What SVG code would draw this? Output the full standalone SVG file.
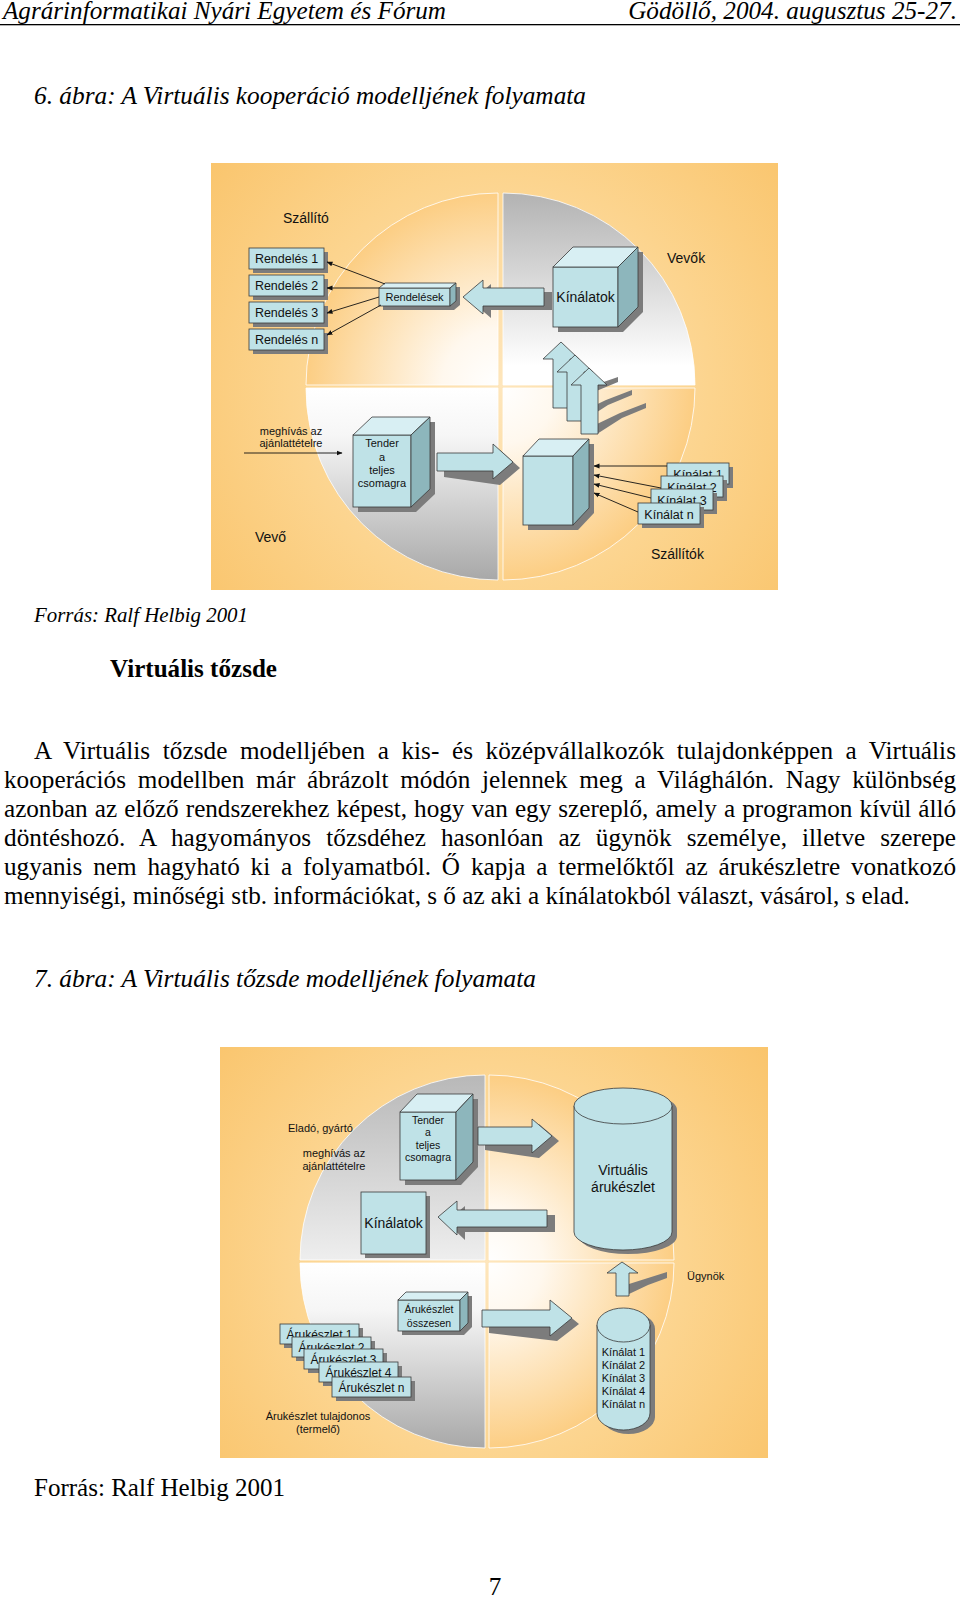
<svg xmlns="http://www.w3.org/2000/svg" width="960" height="1597" viewBox="0 0 960 1597">
<style>
.bx{fill:#BFE2E7;stroke:#3a3a3a;stroke-width:0.8}
.tp{fill:#D8EFF3;stroke:#3a3a3a;stroke-width:0.8}
.sd{fill:#8DB6BC;stroke:#3a3a3a;stroke-width:0.8}
.sh{fill:#7c7c7c}
.t{font-family:"Liberation Sans",Arial,sans-serif;fill:#111}
.c{text-anchor:middle}
.ln{stroke:#111;stroke-width:0.9;fill:none;marker-end:url(#ah)}
.sf{font-family:"Liberation Serif","Times New Roman",serif;fill:#000;font-size:25.2px}
.it{font-style:italic}
.qs{stroke:#ffffff;stroke-width:1;stroke-opacity:0.8}
</style>
<defs>
<marker id="ah" markerWidth="6" markerHeight="6" refX="5.5" refY="3" orient="auto" markerUnits="userSpaceOnUse"><path d="M0,0.6 L6,3 L0,5.4 z" fill="#111"/></marker>
<radialGradient id="bg1" gradientUnits="userSpaceOnUse" cx="500" cy="386" r="420"><stop offset="0" stop-color="#FEE6BC"/><stop offset="0.5" stop-color="#FCD48E"/><stop offset="1" stop-color="#F9C062"/></radialGradient>
<radialGradient id="bg2" gradientUnits="userSpaceOnUse" cx="487" cy="1262" r="400"><stop offset="0" stop-color="#FEE6BC"/><stop offset="0.5" stop-color="#FCD48E"/><stop offset="1" stop-color="#F9C062"/></radialGradient>
<radialGradient id="or1" gradientUnits="userSpaceOnUse" cx="500" cy="386" r="193"><stop offset="0" stop-color="#FFFFFF"/><stop offset="0.3" stop-color="#FFF8EE"/><stop offset="1" stop-color="#FCCE84"/></radialGradient>
<radialGradient id="or2" gradientUnits="userSpaceOnUse" cx="487" cy="1262" r="186"><stop offset="0" stop-color="#FFFFFF"/><stop offset="0.3" stop-color="#FFF8EE"/><stop offset="1" stop-color="#FCCE84"/></radialGradient>
<linearGradient id="gt1" gradientUnits="userSpaceOnUse" x1="0" y1="194" x2="0" y2="385"><stop offset="0" stop-color="#B3B3B3"/><stop offset="0.9" stop-color="#FFFFFF"/></linearGradient>
<linearGradient id="gb1" gradientUnits="userSpaceOnUse" x1="0" y1="388" x2="0" y2="580"><stop offset="0" stop-color="#FFFFFF"/><stop offset="0.25" stop-color="#F6F6F6"/><stop offset="1" stop-color="#A8A8A8"/></linearGradient>
<linearGradient id="gt2" gradientUnits="userSpaceOnUse" x1="0" y1="1075" x2="0" y2="1260"><stop offset="0" stop-color="#B8B8B8"/><stop offset="1" stop-color="#EEEEEE"/></linearGradient>
<linearGradient id="gb2" gradientUnits="userSpaceOnUse" x1="0" y1="1263" x2="0" y2="1448"><stop offset="0" stop-color="#FFFFFF"/><stop offset="0.25" stop-color="#F6F6F6"/><stop offset="1" stop-color="#A8A8A8"/></linearGradient>
</defs>
<rect width="960" height="1597" fill="#ffffff"/>

<g id="page-header">
<text class="sf it" x="3" y="19" textLength="443" lengthAdjust="spacingAndGlyphs">Agrárinformatikai Nyári Egyetem és Fórum</text>
<text class="sf it" x="957" y="19" text-anchor="end">Gödöllő, 2004. augusztus 25-27.</text>
<rect x="0" y="24" width="960" height="1.3" fill="#000"/>
</g>
<text id="caption-6" class="sf it" x="34" y="104" textLength="552" lengthAdjust="spacingAndGlyphs">6. ábra: A Virtuális kooperáció modelljének folyamata</text>

<g id="figure-6-background">
<rect x="211" y="163" width="567" height="427" fill="url(#bg1)"/>
<path class="qs" d="M498,385 L306,385 A192,192 0 0 1 498,193 Z" fill="url(#or1)"/>
<path class="qs" d="M503,385 L503,193 A192,192 0 0 1 695,385 Z" fill="url(#gt1)"/>
<path class="qs" d="M498,388 L306,388 A192,192 0 0 0 498,580 Z" fill="url(#gb1)"/>
<path class="qs" d="M503,388 L695,388 A192,192 0 0 1 503,580 Z" fill="url(#or1)"/>
</g>

<g id="fig6-labels" class="t">
<text x="283" y="223" font-size="14">Szállító</text>
<text x="667" y="263" font-size="14">Vevők</text>
<text x="255" y="542" font-size="14">Vevő</text>
<text x="651" y="559" font-size="14">Szállítók</text>
<text class="c" x="291" y="435" font-size="11">meghívás az</text>
<text class="c" x="291" y="447" font-size="11">ajánlattételre</text>
</g>

<g id="rendeles-1"><rect class="sh" x="253" y="252" width="75" height="21"/><rect class="bx" x="249" y="248" width="75" height="21"/><text class="t c" x="286.5" y="263" font-size="12.5">Rendelés 1</text></g>
<g id="rendeles-2"><rect class="sh" x="253" y="279" width="75" height="21"/><rect class="bx" x="249" y="275" width="75" height="21"/><text class="t c" x="286.5" y="290" font-size="12.5">Rendelés 2</text></g>
<g id="rendeles-3"><rect class="sh" x="253" y="306" width="75" height="21"/><rect class="bx" x="249" y="302" width="75" height="21"/><text class="t c" x="286.5" y="317" font-size="12.5">Rendelés 3</text></g>
<g id="rendeles-n"><rect class="sh" x="253" y="333" width="75" height="21"/><rect class="bx" x="249" y="329" width="75" height="21"/><text class="t c" x="286.5" y="344" font-size="12.5">Rendelés n</text></g>

<g id="rendelesek">
<polygon class="sh" points="383,292 389,287 460,287 460,305 454,310 383,310"/>
<rect class="bx" x="379" y="288" width="71" height="18"/>
<polygon class="tp" points="379,288 385,283 456,283 450,288"/>
<polygon class="sd" points="450,288 456,283 456,301 450,306"/>
<text class="t c" x="414.5" y="301" font-size="11">Rendelések</text>
</g>

<g id="kinalatok-cube">
<polygon class="sh" points="558,272 578,252 643,252 643,312 623,332 558,332"/>
<rect class="bx" x="553" y="267" width="65" height="60"/>
<polygon class="tp" points="553,267 573,247 638,247 618,267"/>
<polygon class="sd" points="618,267 638,247 638,307 618,327"/>
<text class="t c" x="585.5" y="302" font-size="14">Kínálatok</text>
</g>

<g id="tender-cube-1">
<polygon class="sh" points="358,440 377,422 435,422 435,494 416,512 358,512"/>
<rect class="bx" x="353" y="435" width="58" height="72"/>
<polygon class="tp" points="353,435 372,417 430,417 411,435"/>
<polygon class="sd" points="411,435 430,417 430,489 411,507"/>
<text class="t c" x="382" y="447" font-size="11">Tender</text>
<text class="t c" x="382" y="461" font-size="11">a</text>
<text class="t c" x="382" y="474" font-size="11">teljes</text>
<text class="t c" x="382" y="487" font-size="11">csomagra</text>
</g>

<g id="collector-cube">
<polygon class="sh" points="528,461 544,444 594,444 594,513 578,530 528,530"/>
<rect class="bx" x="523" y="456" width="50" height="69"/>
<polygon class="tp" points="523,456 539,439 589,439 573,456"/>
<polygon class="sd" points="573,456 589,439 589,508 573,525"/>
</g>

<g id="kinalat-1"><rect class="sh" x="671" y="467" width="62" height="21"/><rect class="bx" x="667" y="463" width="62" height="21"/><text class="t c" x="698" y="478.5" font-size="12.5">Kínálat 1</text></g>
<g id="kinalat-2"><rect class="sh" x="665" y="480" width="62" height="21"/><rect class="bx" x="661" y="476" width="62" height="21"/><text class="t c" x="692" y="491.5" font-size="12.5">Kínálat 2</text></g>
<g id="kinalat-3"><rect class="sh" x="655" y="493" width="62" height="21"/><rect class="bx" x="651" y="489" width="62" height="21"/><text class="t c" x="682" y="504.5" font-size="12.5">Kínálat 3</text></g>
<g id="kinalat-n"><rect class="sh" x="642" y="507" width="62" height="21"/><rect class="bx" x="638" y="503" width="62" height="21"/><text class="t c" x="669" y="518.5" font-size="12.5">Kínálat n</text></g>

<g id="fig6-block-arrows">
<polygon class="sh" points="471,301 491,284 491,292 552,292 552,310 491,310 491,318"/>
<polygon class="bx" points="463,297 483,280 483,288 544,288 544,306 483,306 483,314"/>
<polygon class="sh" points="444,459 500,459 500,450 520,468 500,485 444,477"/>
<polygon class="bx" points="437,453 493,453 493,444 513,462 493,479 493,471 437,471"/>
<polygon class="sh" points="569,397 592,386 618,377 618,382 594,392 569,407"/>
<polygon class="sh" points="583,411 606,400 632,390 632,395 608,405 583,421"/>
<polygon class="sh" points="597,424 620,413 646,403 646,408 622,418 597,434"/>
<polygon class="bx" points="561,342 579,359 570,359 570,408 553,408 553,359 543,359"/>
<polygon class="bx" points="575,355 593,372 584,372 584,421 567,421 567,372 557,372"/>
<polygon class="bx" points="589,368 607,385 598,385 598,434 581,434 581,385 571,385"/>
</g>

<g id="connectors">
<line class="ln" x1="385" y1="284" x2="327" y2="262"/>
<line class="ln" x1="379" y1="288" x2="327" y2="288"/>
<line class="ln" x1="379" y1="297" x2="327" y2="313"/>
<line class="ln" x1="381" y1="305" x2="327" y2="335"/>
<line class="ln" x1="244" y1="453" x2="342" y2="453"/>
<line class="ln" x1="667" y1="466" x2="594" y2="466"/>
<line class="ln" x1="661" y1="488" x2="594" y2="475"/>
<line class="ln" x1="651" y1="498" x2="594" y2="484"/>
<line class="ln" x1="638" y1="512" x2="594" y2="493"/>
<line class="ln" x1="292" y1="1176" x2="388" y2="1176"/>
<line class="ln" x1="358" y1="1324" x2="389" y2="1315"/>
<line class="ln" x1="365" y1="1344" x2="391" y2="1332"/>
<line class="ln" x1="375" y1="1358" x2="400" y2="1344"/>
<line class="ln" x1="390" y1="1372" x2="413" y2="1349"/>
<line class="ln" x1="402" y1="1388" x2="426" y2="1353"/>
</g>

<text id="source-6" class="sf it" x="34" y="622" style="font-size:21px" textLength="214" lengthAdjust="spacingAndGlyphs">Forrás: Ralf Helbig 2001</text>
<text id="heading" class="sf" x="110" y="677" font-weight="bold" textLength="167" lengthAdjust="spacingAndGlyphs">Virtuális tőzsde</text>

<g id="paragraph" class="sf">
<text x="34" y="759" word-spacing="6.1" textLength="922" lengthAdjust="spacing">A Virtuális tőzsde modelljében a kis- és középvállalkozók tulajdonképpen a Virtuális</text>
<text x="4" y="788" word-spacing="5.4" textLength="952" lengthAdjust="spacing">kooperációs modellben már ábrázolt módón jelennek meg a Világhálón. Nagy különbség</text>
<text x="4" y="817" word-spacing="0.9" textLength="952" lengthAdjust="spacing">azonban az előző rendszerekhez képest, hogy van egy szereplő, amely a programon kívül álló</text>
<text x="4" y="846" word-spacing="8.7" textLength="952" lengthAdjust="spacing">döntéshozó. A hagyományos tőzsdéhez hasonlóan az ügynök személye, illetve szerepe</text>
<text x="4" y="875" word-spacing="4.5" textLength="952" lengthAdjust="spacing">ugyanis nem hagyható ki a folyamatból. Ő kapja a termelőktől az árukészletre vonatkozó</text>
<text x="4" y="904">mennyiségi, minőségi stb. információkat, s ő az aki a kínálatokból választ, vásárol, s elad.</text>
</g>

<text id="caption-7" class="sf it" x="34" y="987" textLength="502" lengthAdjust="spacingAndGlyphs">7. ábra: A Virtuális tőzsde modelljének folyamata</text>

<g id="figure-7-background">
<rect x="220" y="1047" width="548" height="411" fill="url(#bg2)"/>
<path class="qs" d="M485,1260 L300,1260 A185,185 0 0 1 485,1075 Z" fill="url(#gt2)"/>
<path class="qs" d="M489,1260 L489,1075 A185,185 0 0 1 674,1260 Z" fill="url(#or2)"/>
<path class="qs" d="M485,1263 L300,1263 A185,185 0 0 0 485,1448 Z" fill="url(#gb2)"/>
<path class="qs" d="M489,1263 L674,1263 A185,185 0 0 1 489,1448 Z" fill="url(#or2)"/>
</g>

<g id="fig7-labels" class="t">
<text x="288" y="1132" font-size="11">Eladó, gyártó</text>
<text class="c" x="334" y="1157" font-size="11">meghívás az</text>
<text class="c" x="334" y="1170" font-size="11">ajánlattételre</text>
<text x="687" y="1280" font-size="11">Ügynök</text>
<text class="c" x="318" y="1420" font-size="11">Árukészlet tulajdonos</text>
<text class="c" x="318" y="1433" font-size="11">(termelő)</text>
</g>

<g id="tender-cube-2">
<polygon class="sh" points="405,1117 422,1099 478,1099 478,1167 461,1185 405,1185"/>
<rect class="bx" x="400" y="1112" width="56" height="68"/>
<polygon class="tp" points="400,1112 417,1094 473,1094 456,1112"/>
<polygon class="sd" points="456,1112 473,1094 473,1162 456,1180"/>
<text class="t c" x="428" y="1124" font-size="10.5">Tender</text>
<text class="t c" x="428" y="1136" font-size="10.5">a</text>
<text class="t c" x="428" y="1149" font-size="10.5">teljes</text>
<text class="t c" x="428" y="1161" font-size="10.5">csomagra</text>
</g>

<g id="virtualis-arukeszlet">
<path class="sh" d="M579,1110 L579,1236 A49,18 0 0 0 677,1236 L677,1110 A49,18 0 0 0 579,1110 Z"/>
<path class="bx" d="M574,1106 L574,1232 A49,18 0 0 0 672,1232 L672,1106"/>
<ellipse class="bx" cx="623" cy="1106" rx="49" ry="18"/>
<text class="t c" x="623" y="1175" font-size="14">Virtuális</text>
<text class="t c" x="623" y="1192" font-size="14">árukészlet</text>
</g>

<g id="kinalatok-2"><rect class="sh" x="365" y="1196" width="65" height="62"/><rect class="bx" x="361" y="1192" width="65" height="62"/><text class="t c" x="393.5" y="1228" font-size="14">Kínálatok</text></g>

<g id="arukeszlet-osszesen">
<polygon class="sh" points="402,1304 410,1296 472,1296 472,1327 464,1335 402,1335"/>
<rect class="bx" x="398" y="1300" width="62" height="31"/>
<polygon class="tp" points="398,1300 406,1292 468,1292 460,1300"/>
<polygon class="sd" points="460,1300 468,1292 468,1323 460,1331"/>
<text class="t c" x="429" y="1313" font-size="10.5">Árukészlet</text>
<text class="t c" x="429" y="1327" font-size="10.5">összesen</text>
</g>

<g id="kinalat-cylinder">
<path class="sh" d="M602,1329 L602,1417 A26.5,17 0 0 0 655,1417 L655,1329 A26.5,17 0 0 0 602,1329 Z"/>
<path class="bx" d="M597,1325 L597,1413 A26.5,17 0 0 0 650,1413 L650,1325"/>
<ellipse class="bx" cx="623.5" cy="1325" rx="26.5" ry="17"/>
<text class="t c" x="623.5" y="1356" font-size="11">Kínálat 1</text>
<text class="t c" x="623.5" y="1369" font-size="11">Kínálat 2</text>
<text class="t c" x="623.5" y="1382" font-size="11">Kínálat 3</text>
<text class="t c" x="623.5" y="1395" font-size="11">Kínálat 4</text>
<text class="t c" x="623.5" y="1408" font-size="11">Kínálat n</text>
</g>

<g id="arukeszlet-1"><rect class="sh" x="284" y="1328" width="79" height="20"/><rect class="bx" x="280" y="1324" width="79" height="20"/><text class="t c" x="319.5" y="1338.5" font-size="12">Árukészlet 1</text></g>
<g id="arukeszlet-2"><rect class="sh" x="296" y="1341" width="79" height="20"/><rect class="bx" x="292" y="1337" width="79" height="20"/><text class="t c" x="331.5" y="1351.5" font-size="12">Árukészlet 2</text></g>
<g id="arukeszlet-3"><rect class="sh" x="308" y="1353" width="79" height="20"/><rect class="bx" x="304" y="1349" width="79" height="20"/><text class="t c" x="343.5" y="1363.5" font-size="12">Árukészlet 3</text></g>
<g id="arukeszlet-4"><rect class="sh" x="323" y="1366" width="79" height="20"/><rect class="bx" x="319" y="1362" width="79" height="20"/><text class="t c" x="358.5" y="1376.5" font-size="12">Árukészlet 4</text></g>
<g id="arukeszlet-n"><rect class="sh" x="336" y="1381" width="79" height="20"/><rect class="bx" x="332" y="1377" width="79" height="20"/><text class="t c" x="371.5" y="1392" font-size="12">Árukészlet n</text></g>

<g id="fig7-block-arrows">
<polygon class="sh" points="485,1133 539,1133 539,1124 559,1141 539,1158 485,1150"/>
<polygon class="bx" points="478,1127 532,1127 532,1119 552,1136 532,1153 532,1145 478,1145"/>
<polygon class="sh" points="446,1222 465,1206 465,1215 555,1215 555,1232 465,1232 465,1240"/>
<polygon class="bx" points="438,1217 457,1201 457,1210 547,1210 547,1227 457,1227 457,1235"/>
<polygon class="sh" points="489,1316 557,1316 557,1306 579,1324 557,1341 489,1333"/>
<polygon class="bx" points="482,1310 550,1310 550,1300 572,1318 550,1336 550,1327 482,1327"/>
<polygon class="sh" points="629,1284 648,1278 667,1272 667,1278 648,1285 629,1294"/>
<polygon class="bx" points="622,1262 638,1273 629,1273 629,1296 616,1296 616,1273 607,1273"/>
</g>

<text id="source-7" class="sf" x="34" y="1496" textLength="251" lengthAdjust="spacingAndGlyphs">Forrás: Ralf Helbig 2001</text>
<text id="page-number" class="sf" x="495" y="1595" text-anchor="middle">7</text>
</svg>
